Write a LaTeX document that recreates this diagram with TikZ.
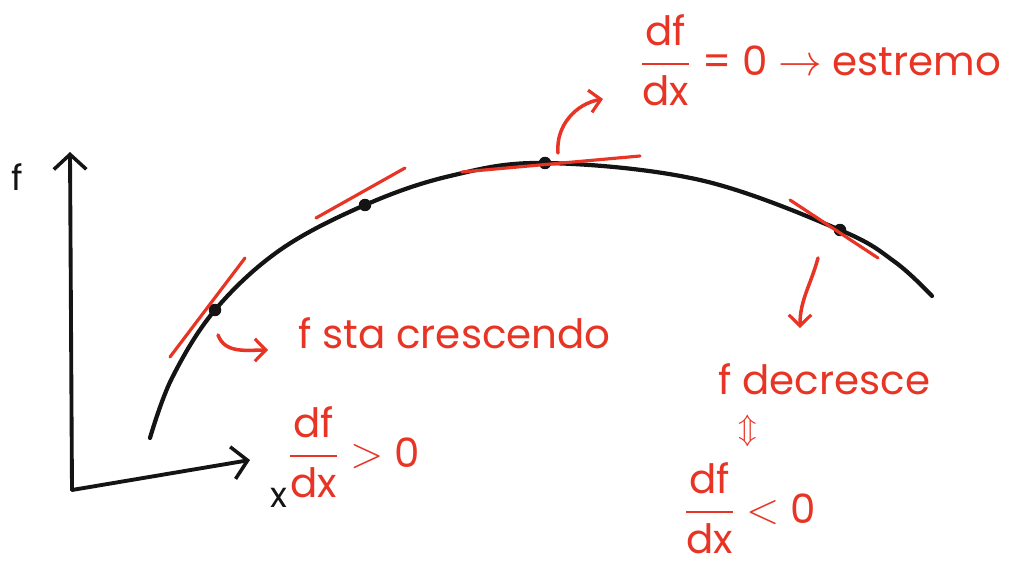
\documentclass[tikz,border=0pt]{standalone}
\usepackage{amsmath}
\usepackage{fontspec}
\setmainfont{Poppins}
\usetikzlibrary{arrows.meta,positioning,calc}
\definecolor{ink}{RGB}{20,20,20}
\definecolor{pen}{RGB}{232,52,36}
\newcommand{\dfdx}{\dfrac{\text{df}}{\text{dx}}}
\tikzset{
  axis/.style={draw=ink,line width=2.2pt,line cap=round,-{Straight Barb[length=3mm,width=6.5mm,line width=2pt]}},
  curve/.style={draw=ink,line width=2.4pt,line cap=round},
  dot/.style={circle,fill=ink,inner sep=0pt,minimum size=2.5mm},
  tangent/.style={draw=pen,line width=1.8pt,line cap=round},
  note/.style={draw=pen,line width=2pt,line cap=round,-{Straight Barb[length=2.2mm,width=4.5mm,line width=1.8pt]}},
  label/.style={text=pen,font=\fontsize{23}{27}\selectfont,inner sep=0pt},
  axlabel/.style={text=ink,font=\fontsize{20}{24}\selectfont,inner sep=0pt}
}
\begin{document}
\begin{tikzpicture}[x=0.02cm,y=-0.02cm]
  \useasboundingbox (0,0) rectangle (1032,571);
  % axes
  \coordinate (O) at (72,490);
  \coordinate (ytip) at (70,152);
  \coordinate (xtip) at (250,460);
  \draw[axis] (O) -- (ytip);
  \draw[axis] (O) -- (xtip);
  \node[axlabel] (flab) at (17,177) {f};
  \node[axlabel] (xlab) at (279,498) {x};

  % the function
  \coordinate (p1) at (215,310);
  \coordinate (p2) at (365,205);
  \coordinate (p3) at (545,163);
  \coordinate (p4) at (840,230);
  \draw[curve] plot[smooth,tension=0.6] coordinates
    {(150,438) (172,378) (p1) (280,250) (p2) (450,176) (p3) (700,180) (p4) (895,262) (932,296)};
  \foreach \i in {1,...,4}
    \node[dot] (d\i) at (p\i) {};

  % tangents
  \draw[tangent] ($(d1)+(-45,47)$) -- ($(d1)+(30,-52)$);
  \draw[tangent] ($(d2)+(-49,13)$) -- ($(d2)+(40,-37)$);
  \draw[tangent] ($(d3)+(-83,9)$) -- ($(d3)+(95,-7)$);
  \draw[tangent] ($(d4)+(-50,-30)$) -- ($(d4)+(38,28)$);

  % labels
  \node[label,anchor=west] (ext) at (640,60) {$\dfdx$ = 0 $\rightarrow$ estremo};
  \node[label,anchor=west] (cres) at (298,333) {f sta crescendo};
  \node[label,anchor=west] (pos) at (288,452) {$\dfdx$ $>$ 0};
  \node[label,anchor=west] (dec) at (718,379) {f decresce};
  \node[label,font=\fontsize{19}{22}\selectfont] (iff) at (748,431) {$\Updownarrow$};
  \node[label,anchor=west] (neg) at (684,508) {$\dfdx$ $<$ 0};

  % pointers
  \draw[note] ([shift={(13,-10)}]d3.center) to[out=95,in=190] ([shift={(58,-64)}]d3.center);
  \draw[note] ([shift={(3,25)}]d1.center) to[out=-70,in=180] ([shift={(53,40)}]d1.center);
  \draw[note] ([shift={(-22,28)}]d4.center) to[out=-105,in=90] ([shift={(-40,98)}]d4.center);
\end{tikzpicture}
\end{document}
